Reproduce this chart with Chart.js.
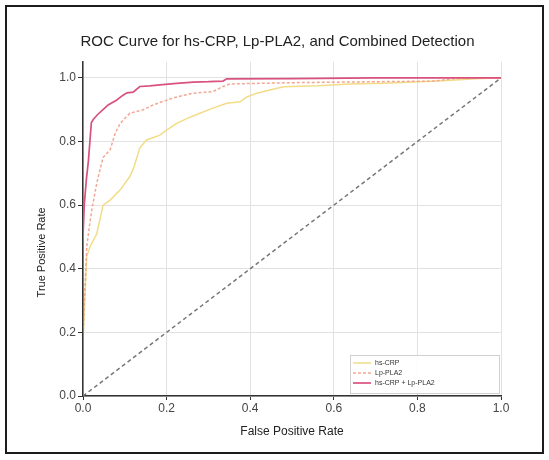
<!DOCTYPE html>
<html><head><meta charset="utf-8">
<script src="https://cdn.jsdelivr.net/npm/chart.js@4.4.0/dist/chart.umd.min.js"></script>
<style>
html,body{margin:0;padding:0;background:#fff;}
#wrap{position:relative;width:549px;height:460px;}
#frame{position:absolute;left:5px;top:5px;width:539px;height:449px;box-sizing:border-box;border:2px solid #1c1c1c;pointer-events:none;}
canvas{position:absolute;left:0;top:0;}
</style></head><body>
<div id="wrap"><canvas id="c" width="549" height="460"></canvas><div id="frame"></div></div>
<script>
const tickValues = [0, 0.2, 0.4, 0.6, 0.8, 1.0];

const seriesLabels = ['hs-CRP', 'Lp-PLA2', 'hs-CRP + Lp-PLA2'];

const hsCrpFpr = [0, 0, 0.006, 0.009, 0.017, 0.033, 0.048, 0.065, 0.089, 0.112, 0.122, 0.136, 0.152, 0.184, 0.2, 0.224, 0.248, 0.28, 0.304, 0.344, 0.376, 0.392, 0.416, 0.447, 0.48, 0.56, 0.64, 0.72, 0.85, 0.95, 1.0];
const hsCrpTpr = [0, 0.18, 0.35, 0.44, 0.47, 0.51, 0.60, 0.616, 0.648, 0.69, 0.72, 0.78, 0.805, 0.82, 0.836, 0.857, 0.872, 0.889, 0.902, 0.92, 0.925, 0.94, 0.952, 0.962, 0.972, 0.975, 0.981, 0.983, 0.99, 0.998, 1.0];

const lpFpr = [0, 0, 0.005, 0.009, 0.015, 0.021, 0.033, 0.048, 0.065, 0.077, 0.089, 0.112, 0.144, 0.168, 0.2, 0.224, 0.264, 0.311, 0.335, 0.352, 0.5, 0.7, 0.84, 0.9, 1.0];
const lpTpr = [0, 0.18, 0.35, 0.47, 0.53, 0.585, 0.67, 0.75, 0.774, 0.826, 0.857, 0.889, 0.9, 0.915, 0.93, 0.94, 0.952, 0.957, 0.973, 0.981, 0.985, 0.988, 0.99, 1.0, 1.0];

const combFpr = [0, 0, 0.003, 0.008, 0.013, 0.02, 0.025, 0.035, 0.048, 0.06, 0.08, 0.095, 0.105, 0.12, 0.136, 0.16, 0.184, 0.224, 0.264, 0.30, 0.335, 0.344, 0.5, 0.7, 1.0];
const combTpr = [0, 0.50, 0.60, 0.68, 0.74, 0.86, 0.87, 0.885, 0.90, 0.915, 0.93, 0.945, 0.953, 0.955, 0.973, 0.975, 0.978, 0.983, 0.987, 0.988, 0.99, 0.997, 0.998, 1.0, 1.0];

const diagFpr = [0, 1];
const diagTpr = [0, 1];

const pts = (xs, ys) => xs.map((x, i) => ({x: x, y: ys[i]}));
const FONT = 'Liberation Sans';

const rocLegend = {
  id: 'rocLegend',
  afterDraw(chart) {
    const ctx = chart.ctx, a = chart.chartArea;
    const items = chart.data.datasets.filter(d => d.inLegend);
    const bx = a.right - 151, by = a.bottom - 41, bw = 149, bh = 38;
    ctx.save();
    ctx.fillStyle = 'rgba(255,255,255,0.85)';
    ctx.strokeStyle = '#d0d0d0';
    ctx.lineWidth = 1;
    ctx.fillRect(bx, by, bw, bh);
    ctx.strokeRect(bx + 0.5, by + 0.5, bw, bh);
    ctx.font = '7px "' + FONT + '"';
    ctx.textBaseline = 'middle';
    items.forEach((d, i) => {
      const y = by + 8 + i * 10;
      ctx.strokeStyle = d.borderColor;
      ctx.lineWidth = d.borderWidth;
      ctx.setLineDash(d.borderDash || []);
      ctx.beginPath(); ctx.moveTo(bx + 3, y); ctx.lineTo(bx + 21, y); ctx.stroke();
      ctx.setLineDash([]);
      ctx.fillStyle = '#333';
      ctx.fillText(d.label, bx + 25, y);
    });
    ctx.restore();
  }
};

// y-axis title drawn slightly below the axis centre, as in the reference
const yTitle = {
  id: 'yTitle',
  afterDraw(chart) {
    const ctx = chart.ctx, a = chart.chartArea;
    const t = chart.options.scales.y.title;
    ctx.save();
    ctx.translate(42, a.top + (a.bottom - a.top) * 0.57);
    ctx.rotate(-Math.PI / 2);
    ctx.font = '11px "' + FONT + '"';
    ctx.fillStyle = '#222';
    ctx.textAlign = 'center';
    ctx.textBaseline = 'middle';
    ctx.fillText(t.text, 0, 0);
    ctx.restore();
  }
};

new Chart(document.getElementById('c'), {
  type: 'scatter',
  data: {
    datasets: [
      {label: seriesLabels[0], inLegend: true, data: pts(hsCrpFpr, hsCrpTpr), showLine: true, borderColor: '#f2dc86', backgroundColor: '#f2dc86', borderWidth: 1.5, pointRadius: 0, tension: 0, order: 3},
      {label: seriesLabels[1], inLegend: true, data: pts(lpFpr, lpTpr), showLine: true, borderColor: '#f2a894', backgroundColor: '#f2a894', borderWidth: 1.5, borderDash: [3, 2], pointRadius: 0, tension: 0, order: 2},
      {label: seriesLabels[2], inLegend: true, data: pts(combFpr, combTpr), showLine: true, borderColor: '#d9527e', backgroundColor: '#d9527e', borderWidth: 1.7, pointRadius: 0, tension: 0, order: 1},
      {label: 'diag', data: pts(diagFpr, diagTpr), showLine: true, borderColor: '#777', borderWidth: 1.5, borderDash: [4, 3], pointRadius: 0, order: 0}
    ]
  },
  plugins: [rocLegend, yTitle],
  options: {
    responsive: false,
    animation: false,
    layout: {padding: {left: 6, right: 0, top: 6, bottom: 6}},
    plugins: {
      legend: {display: false},
      tooltip: {enabled: false},
      title: {display: true, text: 'ROC Curve for hs-CRP, Lp-PLA2, and Combined Detection', color: '#222', font: {family: FONT, size: 15, weight: 'normal'}, padding: {top: 27, bottom: 11}}
    },
    scales: {
      x: {
        type: 'linear', position: 'bottom', min: 0, max: 1,
        afterFit(s) { s.height = 58; },
        afterBuildTicks(s) { s.ticks = tickValues.map(v => ({value: v})); },
        grid: {color: '#e2e2e2', lineWidth: 1, tickColor: '#333', tickLength: 4},
        border: {display: true, color: '#333', width: 1.5},
        ticks: {color: '#444', font: {family: FONT, size: 12}, padding: 1, maxRotation: 0, callback: v => Number(v).toFixed(1)},
        title: {display: true, text: 'False Positive Rate', color: '#222', font: {family: FONT, size: 12}, padding: {top: 0, bottom: 15}}
      },
      y: {
        type: 'linear', position: 'left', min: 0, max: 1.05,
        afterFit(s) { s.width = 77; },
        afterBuildTicks(s) { s.ticks = tickValues.map(v => ({value: v})); },
        grid: {color: '#e2e2e2', lineWidth: 1, tickColor: '#333', tickLength: 5},
        border: {display: true, color: '#333', width: 1.5},
        ticks: {color: '#444', font: {family: FONT, size: 12}, padding: 2, callback: v => Number(v).toFixed(1)},
        title: {display: false, text: 'True Positive Rate'}
      },
      yR: {
        type: 'linear', position: 'right', display: true,
        afterFit(s) { s.width = 48; },
        grid: {display: false, drawTicks: false},
        border: {display: false},
        ticks: {display: false}
      }
    }
  }
});
</script>
</body></html>
